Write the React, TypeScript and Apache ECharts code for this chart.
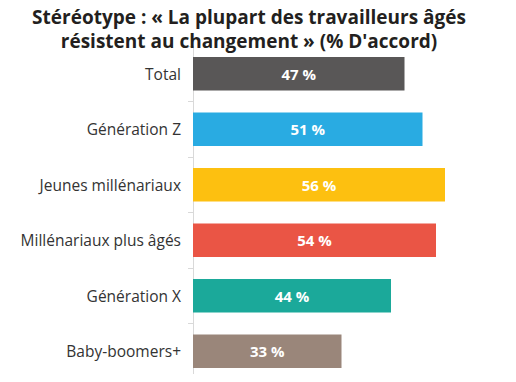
import React, { useEffect, useRef } from "react";
import * as echarts from "echarts";

const categories = [
  "Total",
  "Génération Z",
  "Jeunes millénariaux",
  "Millénariaux plus âgés",
  "Génération X",
  "Baby-boomers+",
];
const values = [47, 51, 56, 54, 44, 33];
const colors = ["#595757", "#29abe2", "#fdc010", "#ea5545", "#1ba99a", "#9a867a"];
const titleText = "Stéréotype : « La plupart des travailleurs âgés\nrésistent au changement » (% D'accord)";

export default function App() {
  const ref = useRef<HTMLDivElement>(null);
  useEffect(() => {
    if (!ref.current) return;
    const chart = echarts.init(ref.current, undefined, { renderer: "svg" });
    chart.setOption({
      animation: false,
      backgroundColor: "#ffffff",
      title: {
        text: titleText,
        left: 244,
        top: 0,
        textAlign: "center",
        textStyle: {
          fontFamily: "Open Sans",
          fontSize: 19,
          fontWeight: "bold",
          lineHeight: 24,
          color: "#231f20",
        },
      },
      grid: { left: 193, top: 46, width: 270, bottom: 3, containLabel: false },
      xAxis: { type: "value", min: 0, max: 60, show: false },
      yAxis: {
        type: "category",
        data: categories,
        inverse: true,
        axisLine: { show: true, lineStyle: { color: "#d9d9d9", width: 1 } },
        axisTick: { show: true, length: 5, lineStyle: { color: "#d9d9d9" } },
        axisLabel: {
          margin: 12,
          fontFamily: "Open Sans",
          fontSize: 15.5,
          color: "#333333",
        },
      },
      series: [
        {
          type: "bar",
          data: values.map((v, i) => ({ value: v, itemStyle: { color: colors[i] } })),
          barCategoryGap: "40%",
          label: {
            show: true,
            position: "inside",
            formatter: "{c} %",
            color: "#ffffff",
            fontFamily: "Open Sans",
            fontWeight: "bold",
            fontSize: 15,
          },
        },
      ],
    });
    return () => chart.dispose();
  }, []);
  return <div ref={ref} style={{ width: 516, height: 382, margin: -8 }} />;
}
